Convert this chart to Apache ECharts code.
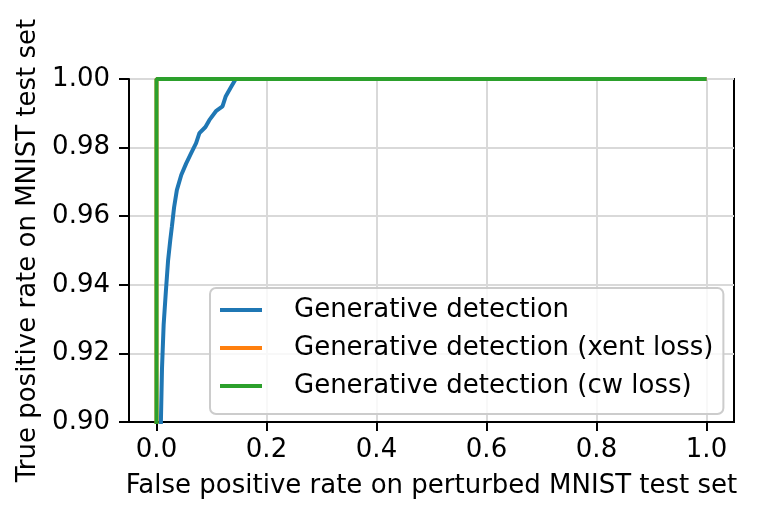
<!DOCTYPE html>
<html>
<head>
<meta charset="utf-8">
<script src="https://cdn.jsdelivr.net/npm/echarts@6/dist/echarts.min.js"></script>
<style>
  html, body { margin: 0; padding: 0; background: #fff; }
  #chart { width: 762px; height: 519px; }
</style>
</head>
<body>
<div id="chart"></div>
<script>
var seriesNames = ['Generative detection', 'Generative detection (xent loss)', 'Generative detection (cw loss)'];
var seriesColors = ['#1f77b4', '#ff7f0e', '#2ca02c'];

// [false positive rate, true positive rate]
var genDetection = [
  [0.007, 0.890], [0.008, 0.900], [0.010, 0.9156], [0.013, 0.9284], [0.017, 0.938],
  [0.021, 0.947], [0.025, 0.953], [0.028, 0.957], [0.032, 0.9626], [0.037, 0.9676],
  [0.045, 0.972], [0.054, 0.9754], [0.063, 0.9784], [0.072, 0.9813], [0.078, 0.9842],
  [0.089, 0.986], [0.096, 0.988], [0.108, 0.9906], [0.120, 0.992], [0.126, 0.995],
  [0.135, 0.9975], [0.144, 1.0], [1.0, 1.0]
];
var genDetectionXent = [[0.0, 0.0], [0.0, 1.0], [1.0, 1.0]];
var genDetectionCw = [[0.0, 0.0], [0.0, 1.0], [1.0, 1.0]];

var xTicks = [0.0, 0.2, 0.4, 0.6, 0.8, 1.0];

var font = 'DejaVu Sans';
var fs = 26;

var chart = echarts.init(document.getElementById('chart'));

var option = {
  animation: false,
  backgroundColor: '#fff',
  grid: {
    left: 129, right: 28, top: 79, bottom: 97,
    show: true, borderColor: '#000', borderWidth: 2, backgroundColor: 'transparent'
  },
  legend: {
    orient: 'vertical',
    left: 210, top: 288,
    data: seriesNames,
    icon: 'rect',
    itemWidth: 42, itemHeight: 4,
    itemGap: 8,
    padding: [7, 10, 13, 10],
    backgroundColor: 'rgba(255,255,255,0.8)',
    borderColor: '#cccccc', borderWidth: 2, borderRadius: 6,
    textStyle: { fontFamily: font, fontSize: fs, color: '#000', lineHeight: 30, padding: [0, 0, 0, 27] }
  },
  xAxis: {
    type: 'value',
    min: -0.05, max: 1.05,
    name: 'False positive rate on perturbed MNIST test set',
    nameLocation: 'middle', nameGap: 51,
    nameTextStyle: { fontFamily: font, fontSize: fs, color: '#000' },
    axisLine: { show: true, onZero: false, lineStyle: { color: '#000', width: 2 } },
    axisTick: { show: true, length: 9, inside: false, customValues: xTicks, lineStyle: { color: '#000', width: 2 } },
    axisLabel: {
      customValues: xTicks, margin: 15, fontFamily: font, fontSize: fs, color: '#000',
      formatter: function (v) { return v.toFixed(1); }
    },
    splitLine: { show: true, lineStyle: { color: '#d9d9d9', width: 2 } }
  },
  yAxis: {
    type: 'value',
    min: 0.9, max: 1.0, interval: 0.02,
    name: 'True positive rate on MNIST test set',
    nameLocation: 'middle', nameGap: 85,
    nameTextStyle: { fontFamily: font, fontSize: fs, color: '#000' },
    axisLine: { show: true, onZero: false, lineStyle: { color: '#000', width: 2 } },
    axisTick: { show: true, length: 10, inside: false, lineStyle: { color: '#000', width: 2 } },
    axisLabel: {
      margin: 19, fontFamily: font, fontSize: fs, color: '#000',
      formatter: function (v) { return v.toFixed(2); }
    },
    splitLine: { show: true, lineStyle: { color: '#d9d9d9', width: 2 } }
  },
  series: [
    { name: seriesNames[0], type: 'line', data: genDetection, showSymbol: false, symbol: 'none',
      color: seriesColors[0], lineStyle: { width: 4, color: seriesColors[0] }, z: 2 },
    { name: seriesNames[1], type: 'line', data: genDetectionXent, showSymbol: false, symbol: 'none',
      color: seriesColors[1], lineStyle: { width: 4, color: seriesColors[1] }, z: 3 },
    { name: seriesNames[2], type: 'line', data: genDetectionCw, showSymbol: false, symbol: 'none',
      color: seriesColors[2], lineStyle: { width: 4, color: seriesColors[2] }, z: 4 }
  ]
};

chart.setOption(option);
</script>
</body>
</html>
